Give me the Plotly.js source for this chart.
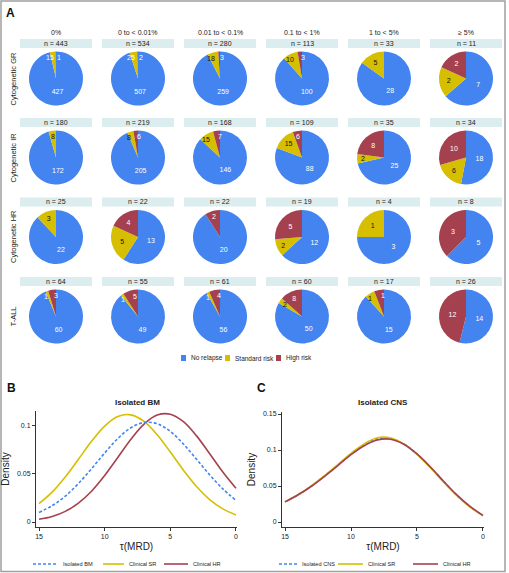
<!DOCTYPE html>
<html>
<head>
<meta charset="utf-8">
<script src="https://cdn.plot.ly/plotly-3.0.1.min.js"></script>
<style>
html,body{margin:0;padding:0;background:#fff;}
#chart{width:509px;height:573px;}
</style>
</head>
<body>
<div id="chart"></div>
<script>
// ---------- data ----------
const mrdLevels = ['0%', '0 to < 0.01%', '0.01 to < 0.1%', '0.1 to < 1%', '1 to < 5%', '\u2265 5%'];
const groups = ['Cytogenetic GR', 'Cytogenetic IR', 'Cytogenetic HR', 'T-ALL'];
const outcomes = ['No relapse', 'Standard risk', 'High risk'];
const noRelapse    = [[427, 507, 259, 100, 28, 7], [172, 205, 146, 88, 25, 18], [22, 13, 20, 12, 3, 5], [60, 49, 56, 50, 15, 14]];
const standardRisk = [[15, 25, 18, 10, 5, 2], [8, 8, 15, 15, 2, 6], [3, 5, 0, 2, 1, 0], [1, 1, 1, 2, 1, 0]];
const highRisk     = [[1, 2, 3, 3, 0, 2], [0, 6, 7, 6, 8, 10], [0, 4, 2, 5, 0, 3], [3, 5, 4, 8, 1, 12]];

const tau = [15, 14, 13, 12, 11, 10, 9, 8, 7, 6, 5, 4, 3, 2, 1, 0];
const bmIsolated = [0.0100, 0.0170, 0.0270, 0.0400, 0.0555, 0.0718, 0.0869, 0.0982, 0.1037, 0.1023, 0.0943, 0.0812, 0.0653, 0.0491, 0.0345, 0.0226];
const bmClinicalSR = [0.0191, 0.0311, 0.0469, 0.0653, 0.0840, 0.0999, 0.1099, 0.1116, 0.1048, 0.0909, 0.0729, 0.0540, 0.0370, 0.0234, 0.0137, 0.0074];
const bmClinicalHR = [0.0028, 0.0058, 0.0111, 0.0197, 0.0321, 0.0484, 0.0672, 0.0862, 0.1020, 0.1114, 0.1123, 0.1045, 0.0897, 0.0711, 0.0520, 0.0351];
const cnsIsolated = [0.0280, 0.0380, 0.0500, 0.0640, 0.0790, 0.0945, 0.1070, 0.1155, 0.1160, 0.1085, 0.0945, 0.0765, 0.0565, 0.0375, 0.0215, 0.0090];
const cnsClinicalSR = [0.0280, 0.0382, 0.0503, 0.0645, 0.0797, 0.0955, 0.1085, 0.1170, 0.1168, 0.1085, 0.0940, 0.0758, 0.0558, 0.0370, 0.0212, 0.0088];
const cnsClinicalHR = [0.0280, 0.0378, 0.0497, 0.0635, 0.0783, 0.0935, 0.1060, 0.1140, 0.1150, 0.1080, 0.0945, 0.0768, 0.0570, 0.0380, 0.0220, 0.0092];

// ---------- styling / layout helpers ----------
const W = 509, H = 573;
const px = v => v / W;
const py = v => 1 - v / H;
const BLUE = '#4384f0', YELLOW = '#d5bf00', RED = '#a5414f';
const BOX = '#dcedef';
const TXT = '#222';
const FONT = 'Liberation Sans, Arial, sans-serif';

const colX = [56, 138, 220, 302, 384, 466];
const rowY = [78.5, 157.5, 237, 316.5];
const R = 27;
const SMALL = 0.1;      // slices below this share get an outside-style label
const LBL = 7;          // label font size

const traces = [];
const shapes = [];
const annotations = [];

// pies
for (let r = 0; r < groups.length; r++) {
  for (let c = 0; c < mrdLevels.length; c++) {
    const vals = [noRelapse[r][c], standardRisk[r][c], highRisk[r][c]];
    const n = vals.reduce((a, b) => a + b, 0);
    const frac = vals.map(v => v / n);
    const cx = colX[c], cy = rowY[r];
    traces.push({
      type: 'pie',
      labels: outcomes,
      values: vals,
      text: vals.map((v, i) => (v > 0 && frac[i] >= SMALL) ? String(v) : ''),
      textinfo: 'text',
      textposition: 'inside',
      insidetextorientation: 'horizontal',
      textfont: {size: LBL, family: FONT, color: ['#ffffff', '#111111', '#ffffff']},
      sort: false,
      direction: 'clockwise',
      rotation: 0,
      marker: {colors: [BLUE, YELLOW, RED], line: {width: 0}},
      domain: {x: [px(cx - R), px(cx + R)], y: [py(cy + R), py(cy - R)]},
      hoverinfo: 'skip',
      showlegend: false
    });
    // labels for thin slices, placed along the slice's mid angle near the rim
    const bothSmall = vals[1] > 0 && vals[2] > 0 && frac[1] < SMALL && frac[2] < SMALL;
    let cum = 0;
    vals.forEach((v, i) => {
      const mid = (cum + v / 2) / n * 2 * Math.PI;
      cum += v;
      if (v === 0 || frac[i] >= SMALL) return;
      const rr = 0.78 * R;
      let x = cx + rr * Math.sin(mid);
      const y = cy - rr * Math.cos(mid);
      if (bothSmall) x += (i === 1 ? -3 : 3);
      const tw = String(v).length * 0.56 * LBL;
      const fits = frac[i] * 2 * Math.PI * rr >= tw;
      const color = (i === 1 && fits) ? '#111111' : '#ffffff';
      annotations.push({xref: 'paper', yref: 'paper', x: px(x), y: py(y), text: String(v), showarrow: false,
        xanchor: 'center', yanchor: 'middle', font: {size: LBL, color: color, family: FONT}});
    });
    shapes.push({type: 'rect', xref: 'paper', yref: 'paper', layer: 'below',
      x0: px(cx - 36), x1: px(cx + 36), y0: py(cy - 30.5), y1: py(cy - 39.5),
      fillcolor: BOX, line: {width: 0}});
    annotations.push({xref: 'paper', yref: 'paper', x: px(cx), y: py(cy - 35), text: 'n = ' + n,
      showarrow: false, xanchor: 'center', yanchor: 'middle', font: {size: 7, color: TXT, family: FONT}});
  }
}
// column headers
mrdLevels.forEach((t, c) => annotations.push({xref: 'paper', yref: 'paper', x: px(colX[c]), y: py(32.5), text: t,
  showarrow: false, xanchor: 'center', yanchor: 'middle', font: {size: 7, color: TXT, family: FONT}}));
// row labels
groups.forEach((t, r) => annotations.push({xref: 'paper', yref: 'paper', x: px(13), y: py(rowY[r]), text: t, textangle: -90,
  showarrow: false, xanchor: 'center', yanchor: 'middle', font: {size: 7.5, color: TXT, family: FONT}}));

// pie legend (manual)
const pieLegend = [{x: 181, label: outcomes[0], color: BLUE}, {x: 225, label: outcomes[1], color: YELLOW}, {x: 276, label: outcomes[2], color: RED}];
pieLegend.forEach(it => {
  shapes.push({type: 'rect', xref: 'paper', yref: 'paper', x0: px(it.x), x1: px(it.x + 5), y0: py(361), y1: py(355), fillcolor: it.color, line: {width: 0}});
  annotations.push({xref: 'paper', yref: 'paper', x: px(it.x + 8), y: py(358), text: it.label, showarrow: false,
    xanchor: 'left', yanchor: 'middle', font: {size: 6.5, color: TXT, family: FONT}});
});

// density traces
const DASH = '3px,2px';
function lineTrace(y, color, dash, xa, ya, name) {
  return {type: 'scatter', mode: 'lines', x: tau, y: y, name: name, xaxis: xa, yaxis: ya,
    line: {color: color, width: 1.6, dash: dash, shape: 'spline', smoothing: 1.0}, hoverinfo: 'skip', showlegend: false};
}
traces.push(lineTrace(bmClinicalHR, RED, 'solid', 'x', 'y', 'Clinical HR'));
traces.push(lineTrace(bmClinicalSR, YELLOW, 'solid', 'x', 'y', 'Clinical SR'));
traces.push(lineTrace(bmIsolated, BLUE, DASH, 'x', 'y', 'Isolated BM'));
traces.push(lineTrace(cnsIsolated, BLUE, DASH, 'x2', 'y2', 'Isolated CNS'));
traces.push(lineTrace(cnsClinicalSR, YELLOW, 'solid', 'x2', 'y2', 'Clinical SR'));
traces.push(lineTrace(cnsClinicalHR, RED, 'solid', 'x2', 'y2', 'Clinical HR'));

// line legends (manual)
const lineLegends = [
  {x0: 33, x1: 58, tx: 61, label: 'Isolated BM', color: BLUE, dash: DASH},
  {x0: 103, x1: 124, tx: 127, label: 'Clinical SR', color: YELLOW, dash: 'solid'},
  {x0: 164, x1: 188, tx: 191, label: 'Clinical HR', color: RED, dash: 'solid'},
  {x0: 279, x1: 298, tx: 300, label: 'Isolated CNS', color: BLUE, dash: DASH},
  {x0: 338, x1: 363, tx: 366, label: 'Clinical SR', color: YELLOW, dash: 'solid'},
  {x0: 413, x1: 438, tx: 441, label: 'Clinical HR', color: RED, dash: 'solid'}
];
lineLegends.forEach(it => {
  shapes.push({type: 'line', xref: 'paper', yref: 'paper', x0: px(it.x0), x1: px(it.x1), y0: py(564), y1: py(564),
    line: {color: it.color, width: 1.6, dash: it.dash}});
  annotations.push({xref: 'paper', yref: 'paper', x: px(it.tx), y: py(564), text: it.label, showarrow: false,
    xanchor: 'left', yanchor: 'middle', font: {size: 5.6, color: TXT, family: FONT}});
});

// panel titles and letters
annotations.push({xref: 'paper', yref: 'paper', x: px(137), y: py(402), text: '<b>Isolated BM</b>', showarrow: false,
  xanchor: 'center', yanchor: 'middle', font: {size: 8, color: TXT, family: FONT}});
annotations.push({xref: 'paper', yref: 'paper', x: px(383), y: py(402), text: '<b>Isolated CNS</b>', showarrow: false,
  xanchor: 'center', yanchor: 'middle', font: {size: 8, color: TXT, family: FONT}});
[['A', 10.5, 12.5], ['B', 11, 387.5], ['C', 261, 387.5]].forEach(l => annotations.push({xref: 'paper', yref: 'paper',
  x: px(l[1]), y: py(l[2]), text: '<b>' + l[0] + '</b>', showarrow: false, xanchor: 'center', yanchor: 'middle',
  font: {size: 12, color: '#111', family: FONT}}));

// outer frame
shapes.push({type: 'rect', xref: 'paper', yref: 'paper', x0: px(1), x1: px(505), y0: py(571.5), y1: py(1),
  line: {color: '#a0a0a0', width: 1.5}, fillcolor: 'rgba(0,0,0,0)'});

const axisCommon = {showgrid: false, zeroline: false, showline: true, linecolor: '#333', linewidth: 1,
  ticks: 'outside', ticklen: 3, tickcolor: '#333', tickfont: {size: 7, color: TXT, family: FONT}, automargin: false};

const layout = {
  width: W, height: H,
  margin: {l: 0, r: 0, t: 0, b: 0},
  paper_bgcolor: '#fff', plot_bgcolor: 'rgba(0,0,0,0)',
  font: {family: FONT, color: TXT},
  showlegend: false,
  uniformtext: {minsize: LBL, mode: 'show'},
  xaxis: Object.assign({}, axisCommon, {domain: [px(36), px(237)], range: [15.23, -0.08], anchor: 'y',
    tickvals: [15, 10, 5, 0], title: {text: '\u03c4(MRD)', font: {size: 10, family: FONT, color: TXT}, standoff: 3}}),
  yaxis: Object.assign({}, axisCommon, {domain: [py(527), py(411)], range: [-0.0052, 0.1156], anchor: 'x',
    tickvals: [0, 0.05, 0.1], ticktext: ['0', '0.05', '0.1'],
    title: {text: 'Density', font: {size: 10, family: FONT, color: TXT}, standoff: 5}}),
  xaxis2: Object.assign({}, axisCommon, {domain: [px(282), px(484)], range: [15.23, -0.08], anchor: 'y2',
    tickvals: [15, 10, 5, 0], title: {text: '\u03c4(MRD)', font: {size: 10, family: FONT, color: TXT}, standoff: 3}}),
  yaxis2: Object.assign({}, axisCommon, {domain: [py(527), py(412)], range: [-0.0069, 0.1528], anchor: 'x2',
    tickvals: [0, 0.05, 0.1, 0.15], ticktext: ['0', '0.05', '0.1', '0.15'],
    title: {text: 'Density', font: {size: 10, family: FONT, color: TXT}, standoff: 5}}),
  shapes: shapes,
  annotations: annotations
};

Plotly.newPlot('chart', traces, layout, {displayModeBar: false, staticPlot: true});
</script>
</body>
</html>
